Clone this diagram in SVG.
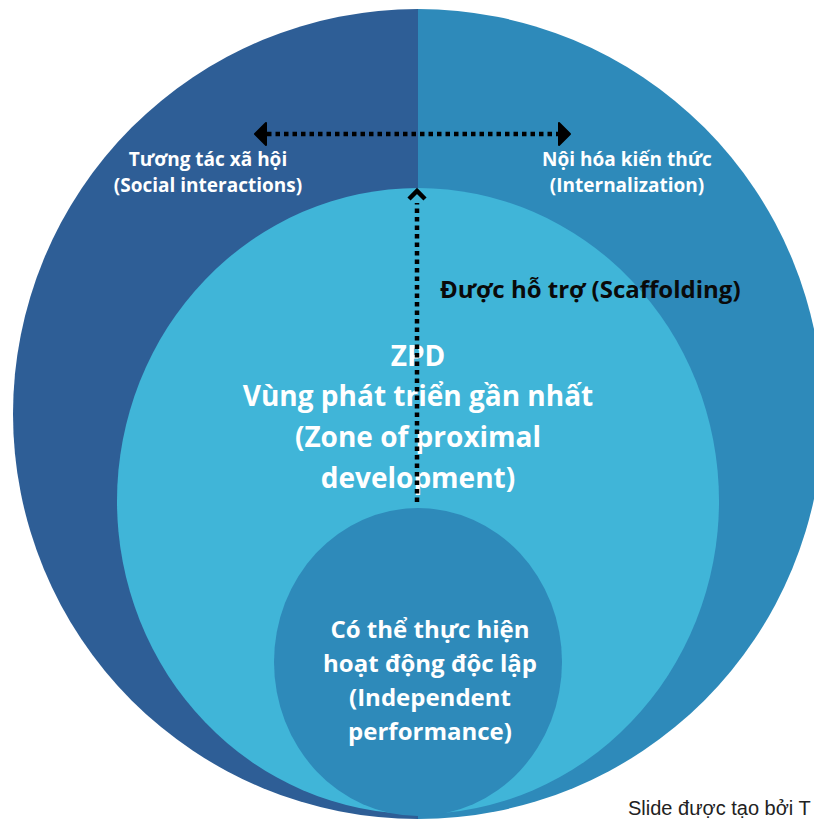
<svg xmlns="http://www.w3.org/2000/svg" width="814" height="820" viewBox="0 0 814 820">
<style>
.w{fill:#ffffff;font-family:"Open Sans","Noto Sans",sans-serif;font-weight:700;text-anchor:middle}
.t1{font-size:19px}
.t2{font-size:28px}
.t3{font-size:24px}
.dash{stroke:#000;stroke-width:4.5;fill:none;stroke-dasharray:4.5 4}
</style>
<rect width="814" height="820" fill="#ffffff"/>
<g id="outer">
<path d="M418,9 A405,405 0 0,0 418,819 Z" fill="#2e5e96"/>
<path d="M418,9 A405,405 0 0,1 418,819 Z" fill="#2e8aba"/>
<text class="w t1" x="208" y="166">Tương tác xã hội</text>
<text class="w t1" x="208" y="192">(Social interactions)</text>
<text class="w t1" x="627" y="166">Nội hóa kiến thức</text>
<text class="w t1" x="627" y="192">(Internalization)</text>
</g>
<g id="zpd">
<ellipse cx="418" cy="501" rx="301" ry="313" fill="#40b5d8"/>
<text class="w t2" x="418" y="366">ZPD</text>
<text class="w t2" x="418" y="406">Vùng phát triển gần nhất</text>
<text class="w t2" x="418" y="447">(Zone of proximal</text>
<text class="w t2" x="418" y="488">development)</text>
</g>
<g id="independent">
<ellipse cx="418" cy="662" rx="144" ry="154" fill="#2e8aba"/>
<text class="w t3" x="430" y="638">Có thể thực hiện</text>
<text class="w t3" x="430" y="672">hoạt động độc lập</text>
<text class="w t3" x="430" y="706">(Independent</text>
<text class="w t3" x="430" y="740">performance)</text>
</g>
<g id="connectors">
<line class="dash" x1="267" y1="134" x2="559" y2="134"/>
<polygon points="255,134 266,123 266,145" fill="#000" stroke="#000" stroke-width="2" stroke-linejoin="round"/>
<polygon points="570,134 559,123 559,145" fill="#000" stroke="#000" stroke-width="2" stroke-linejoin="round"/>
<line class="dash" x1="417" y1="502" x2="417" y2="203"/>
<polyline points="409,199 417,191 425,199" fill="none" stroke="#000" stroke-width="4.5" stroke-linejoin="miter"/>
</g>
<g id="scaffolding">
<text x="440" y="298" style="font-family:'Open Sans','Noto Sans',sans-serif;font-weight:700;font-size:24px;fill:#0a0a0a">Được hỗ trợ (Scaffolding)</text>
</g>
<text x="628" y="815" style="font-family:'Liberation Sans',Arial,sans-serif;font-size:20px;fill:#222">Slide được tạo bởi T</text>
</svg>
